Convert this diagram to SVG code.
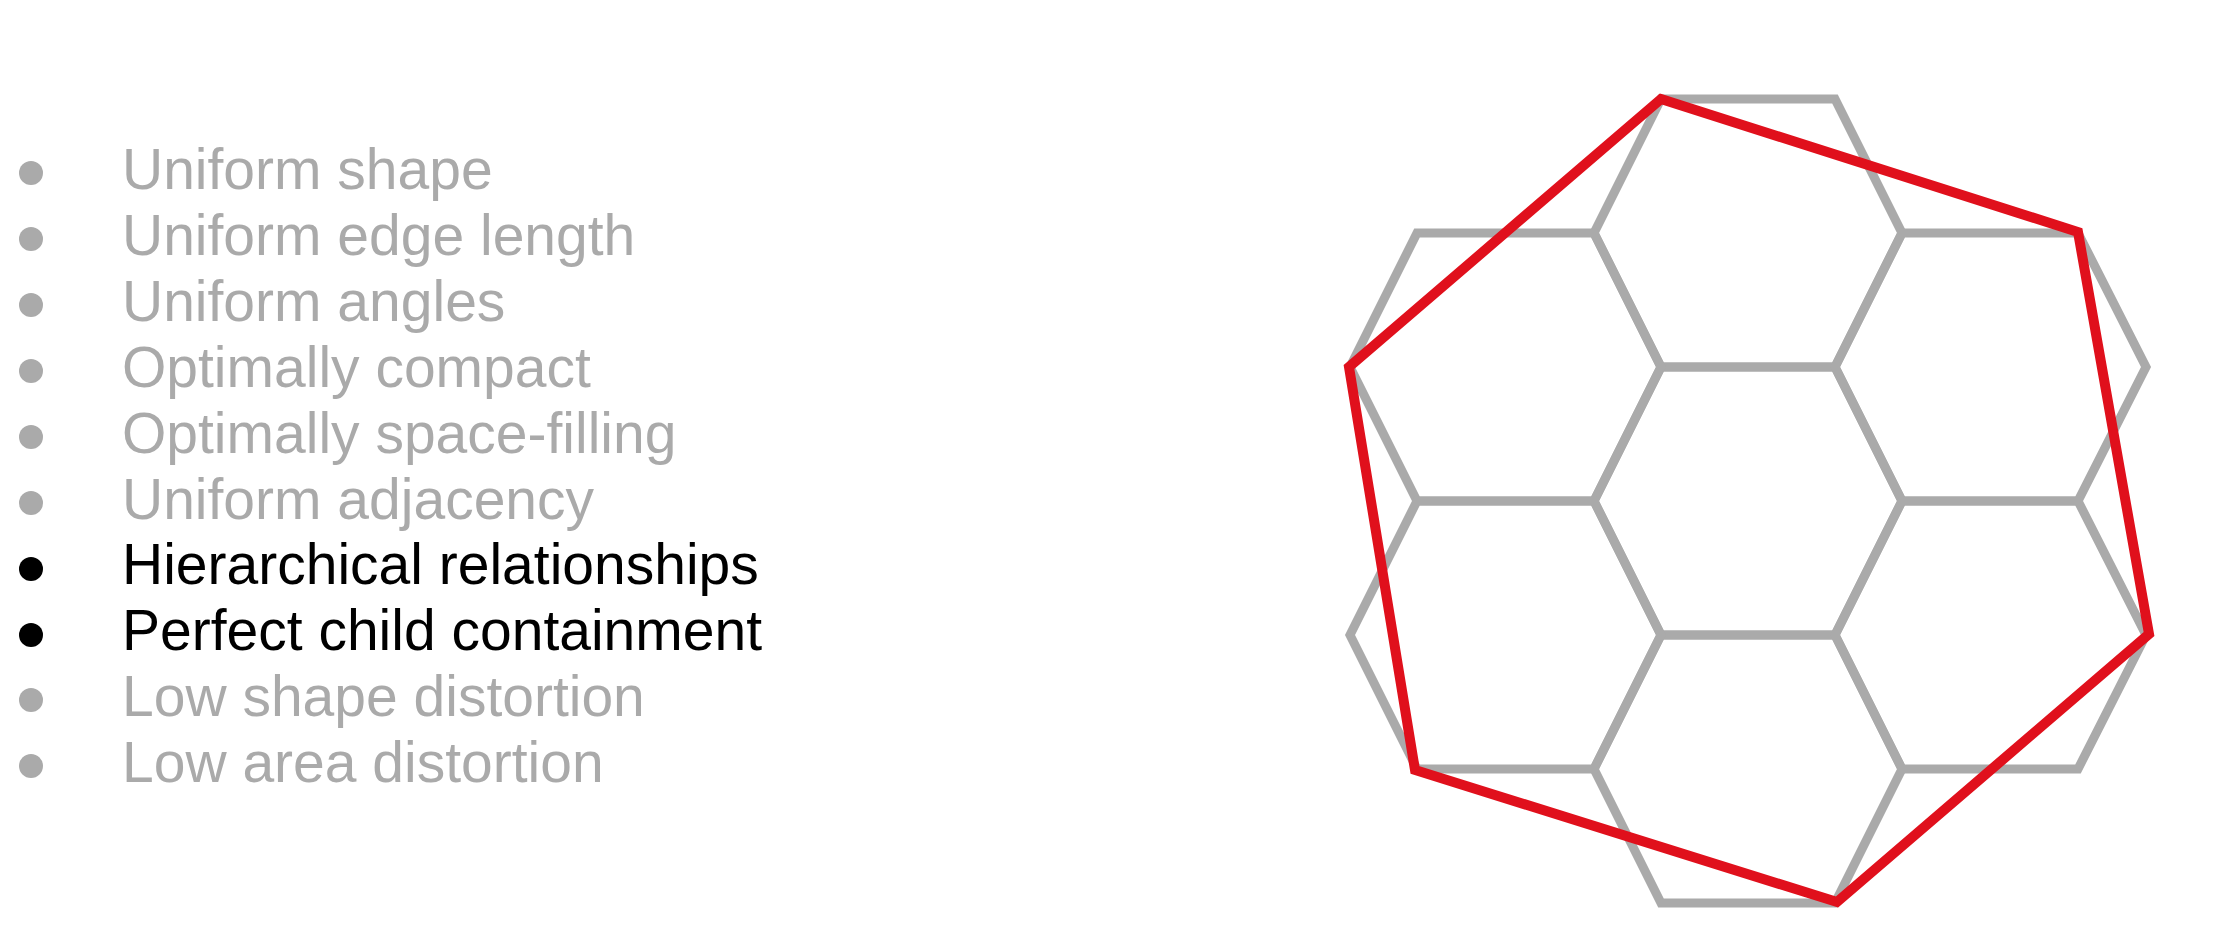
<svg xmlns="http://www.w3.org/2000/svg" width="2220" height="932" viewBox="0 0 2220 932">
<style>
.t{font-family:"Liberation Sans",Arial,sans-serif;font-size:57px}
.g{fill:#aaaaaa}
.k{fill:#000000}
.hex{fill:none;stroke:#aaaaaa;stroke-width:9;stroke-linejoin:miter}
.red{fill:none;stroke:#e0101c;stroke-width:10;stroke-linejoin:miter}
</style>
<rect width="2220" height="932" fill="#ffffff"/>
<g id="list">
<circle class="g" cx="31" cy="173" r="12"/><text class="t g" x="122" y="189">Uniform shape</text>
<circle class="g" cx="31" cy="239" r="12"/><text class="t g" x="122" y="255">Uniform edge length</text>
<circle class="g" cx="31" cy="305" r="12"/><text class="t g" x="122" y="321">Uniform angles</text>
<circle class="g" cx="31" cy="371" r="12"/><text class="t g" x="122" y="387">Optimally compact</text>
<circle class="g" cx="31" cy="437" r="12"/><text class="t g" x="122" y="453">Optimally space-filling</text>
<circle class="g" cx="31" cy="503" r="12"/><text class="t g" x="122" y="519">Uniform adjacency</text>
<circle class="k" cx="31" cy="569" r="12"/><text class="t k" x="122" y="584">Hierarchical relationships</text>
<circle class="k" cx="31" cy="635" r="12"/><text class="t k" x="122" y="650">Perfect child containment</text>
<circle class="g" cx="31" cy="700" r="12"/><text class="t g" x="122" y="716">Low shape distortion</text>
<circle class="g" cx="31" cy="766" r="12"/><text class="t g" x="122" y="782">Low area distortion</text>
</g>
<g id="hexgrid">
<polygon id="hex-top" class="hex" points="1661,99 1835,99 1902,233 1835,367 1661,367 1594,233"/>
<polygon id="hex-center" class="hex" points="1661,367 1835,367 1902,501 1835,635 1661,635 1594,501"/>
<polygon id="hex-bottom" class="hex" points="1661,635 1835,635 1902,769 1835,903 1661,903 1594,769"/>
<polygon id="hex-ul" class="hex" points="1417,233 1594,233 1661,367 1594,501 1417,501 1350,367"/>
<polygon id="hex-ll" class="hex" points="1417,501 1594,501 1661,635 1594,769 1417,769 1350,635"/>
<polygon id="hex-ur" class="hex" points="1902,233 2078,233 2146,367 2078,501 1902,501 1835,367"/>
<polygon id="hex-lr" class="hex" points="1902,501 2078,501 2146,635 2078,769 1902,769 1835,635"/>
</g>
<g id="outline">
<polygon class="red" points="1661,99 2078,232 2149,634 1837,902 1415,770 1349,367"/>
</g>
</svg>
